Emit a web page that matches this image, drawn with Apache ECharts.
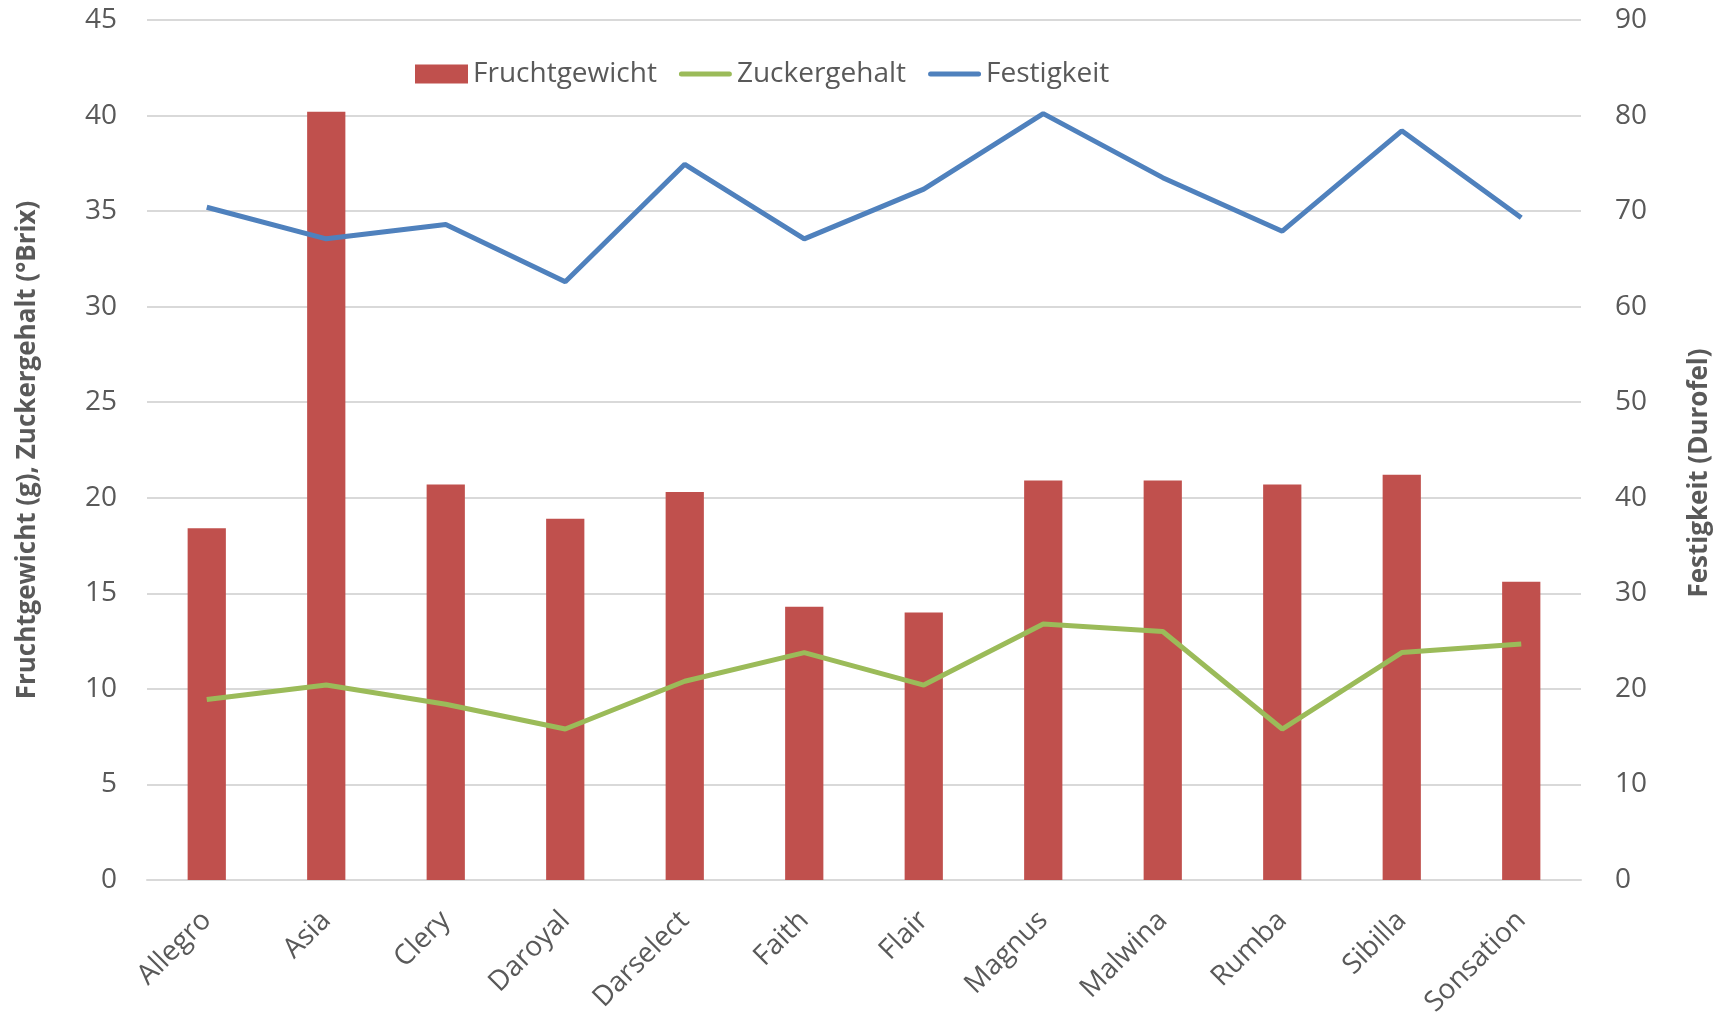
<!DOCTYPE html>
<html><head><meta charset="utf-8">
<script src="https://cdn.jsdelivr.net/npm/echarts@6/dist/echarts.min.js"></script>
<style>html,body{margin:0;padding:0;background:#fff}#c{width:1731px;height:1013px}</style>
</head><body><div id="c"></div>
<script>
const categories = ['Allegro','Asia','Clery','Daroyal','Darselect','Faith','Flair','Magnus','Malwina','Rumba','Sibilla','Sonsation'];
const fruchtgewicht = [18.4, 40.2, 20.7, 18.9, 20.3, 14.3, 14.0, 20.9, 20.9, 20.7, 21.2, 15.6];
const zuckergehalt = [9.45, 10.2, 9.2, 7.9, 10.4, 11.9, 10.2, 13.4, 13.0, 7.9, 11.9, 12.35];
const festigkeit = [70.4, 67.1, 68.6, 62.6, 74.9, 67.1, 72.3, 80.2, 73.5, 67.9, 78.4, 69.3];
const leftTicks = [0, 45, 5];
const rightTicks = [0, 90, 10];

const FONT = 'Open Sans';
const GRAY = '#595959';
const RED = '#C0504D', GREEN = '#9BBB59', BLUE = '#4F81BD';
const LINE_ICON = 'path://M0,0L0.01,0L0.01,0.01Z M2.5,7L50.5,7A2.5,2.5 0 0 1 50.5,12L2.5,12A2.5,2.5 0 0 1 2.5,7Z M53,19L52.99,19L52.99,18.99Z';
const chart = echarts.init(document.getElementById('c'));
chart.setOption({
  animation: false,
  textStyle: { fontFamily: FONT },
  legend: {
    left: 410, top: 55, itemGap: 22, itemWidth: 53, itemHeight: 19,
    symbolKeepAspect: false,
    textStyle: { fontSize: 28, color: GRAY, fontFamily: FONT, padding: [0,0,0,0] },
    data: [
      { name: 'Fruchtgewicht', icon: 'rect' },
      { name: 'Zuckergehalt', icon: LINE_ICON,
        itemStyle: { color: GREEN, borderWidth: 0, opacity: 1 } },
      { name: 'Festigkeit', icon: LINE_ICON,
        itemStyle: { color: BLUE, borderWidth: 0, opacity: 1 } }
    ]
  },
  grid: { left: 147, right: 150, top: 20, bottom: 133, containLabel: false, outerBoundsMode: 'none' },
  xAxis: {
    type: 'category', data: categories,
    axisLine: { lineStyle: { color: '#D9D9D9', width: 2 } },
    axisTick: { show: false },
    axisLabel: { rotate: 45, fontSize: 28, color: GRAY, margin: 36, fontFamily: FONT }
  },
  yAxis: [
    {
      type: 'value', min: leftTicks[0], max: leftTicks[1], interval: leftTicks[2],
      name: 'Fruchtgewicht (g), Zuckergehalt (°Brix)', nameLocation: 'middle', nameGap: 106,
      nameTextStyle: { fontSize: 26, fontWeight: 'bold', color: GRAY, fontFamily: FONT },
      axisLabel: { fontSize: 28, color: GRAY, margin: 30, fontFamily: FONT },
      axisLine: { show: false }, axisTick: { show: false },
      splitLine: { lineStyle: { color: '#D9D9D9', width: 2 } }
    },
    {
      type: 'value', min: rightTicks[0], max: rightTicks[1], interval: rightTicks[2],
      name: 'Festigkeit (Durofel)', nameLocation: 'middle', nameGap: 106, nameRotate: 90,
      nameTextStyle: { fontSize: 26, fontWeight: 'bold', color: GRAY, fontFamily: FONT, padding: [0, 46, 0, 0] },
      axisLabel: { fontSize: 28, color: GRAY, margin: 34, fontFamily: FONT },
      axisLine: { show: false }, axisTick: { show: false },
      splitLine: { show: false }
    }
  ],
  series: [
    { name: 'Fruchtgewicht', type: 'bar', data: fruchtgewicht, yAxisIndex: 0,
      barCategoryGap: '68%', itemStyle: { color: RED } },
    { name: 'Zuckergehalt', type: 'line', data: zuckergehalt, yAxisIndex: 0,
      showSymbol: false, symbol: 'none', lineStyle: { color: GREEN, width: 5 }, itemStyle: { color: GREEN } },
    { name: 'Festigkeit', type: 'line', data: festigkeit, yAxisIndex: 1,
      showSymbol: false, symbol: 'none', lineStyle: { color: BLUE, width: 5 }, itemStyle: { color: BLUE } }
  ]
});
</script></body></html>
